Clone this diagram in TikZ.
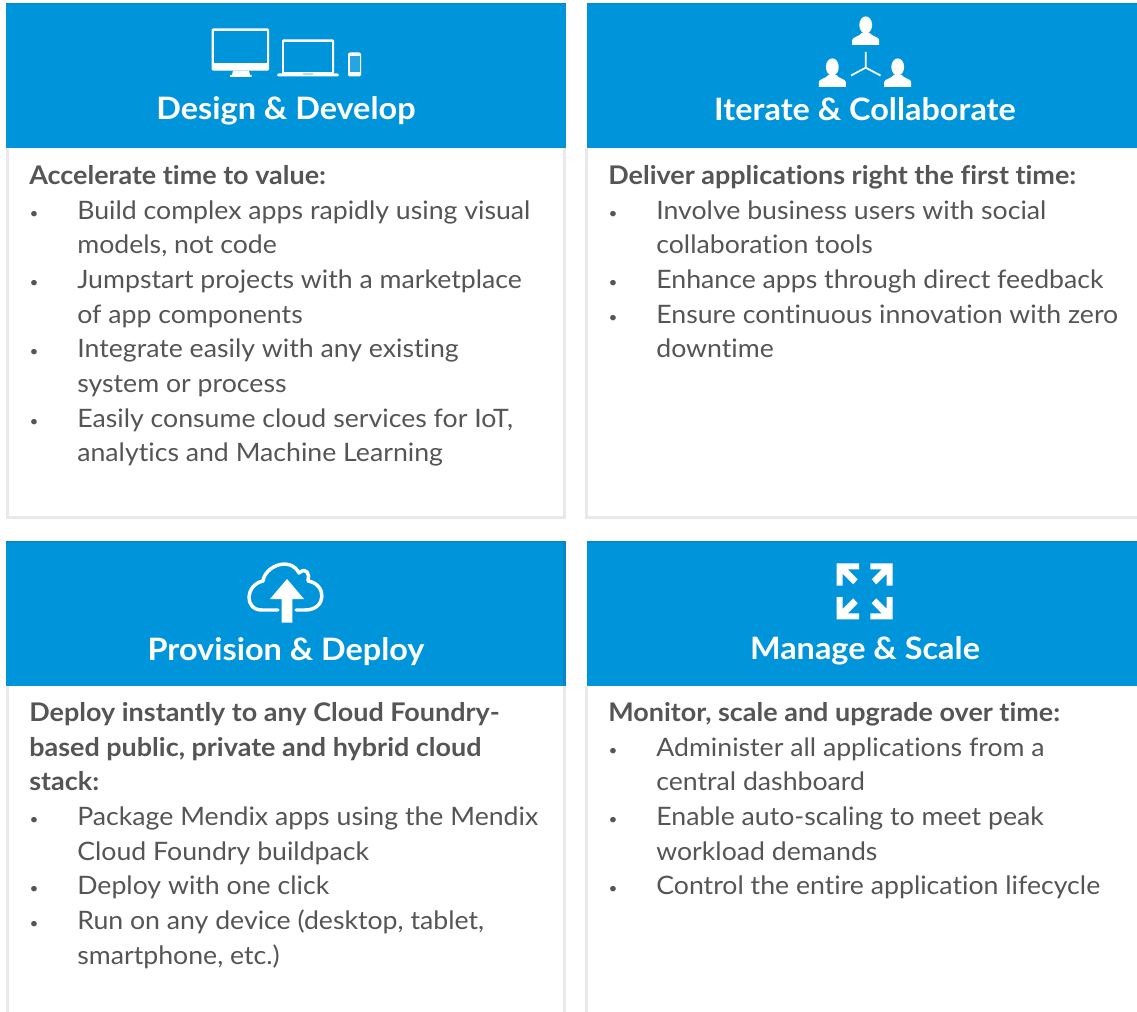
\documentclass[tikz,border=0pt]{standalone}
\usepackage{fontspec}
\setmainfont[FakeStretch=1.05,Ligatures=NoCommon]{Lato}
\definecolor{hdr}{HTML}{0095DB}
\definecolor{hdrdark}{HTML}{0488C6}
\definecolor{bord}{HTML}{E9E9E9}
\definecolor{txt}{HTML}{555555}
\tikzset{
  panelbox/.style={draw=none,fill=bord},
  hdrbox/.style={fill=hdr,draw=none},
  hdrtop/.style={fill=hdrdark,draw=none},
  title/.style={text=white,font=\fontsize{23.15}{26}\selectfont\bfseries,anchor=base,inner sep=0pt},
  bodyline/.style={text=txt,font=\fontsize{19.05}{22}\selectfont,anchor=base west,inner sep=0pt,xshift=-0.7pt,yshift=-0.4pt},
  headline/.style={text=txt,font=\fontsize{19.25}{22}\selectfont\bfseries,anchor=base west,inner sep=0pt,xshift=-0.7pt,yshift=-0.4pt},
  bulletmark/.style={text=txt,font=\fontsize{11}{13}\selectfont,anchor=base,inner sep=0pt,yshift=0.6pt},
  ico/.style={fill=white,draw=none},
  icoline/.style={draw=white,fill=none,line width=2.6pt,line join=round,line cap=round},
  icothin/.style={draw=white,fill=none,line width=1.3pt}
}
\newcommand{\personico}[2]{%
  \begin{scope}[shift={(#1,#2)}]
    \fill[ico] (0,-20) ellipse [x radius=6.4,y radius=8.6];
    \fill[ico] (-13.5,0) -- (-13.5,-5) .. controls (-13.5,-8) and (-6,-8.5) .. (-4,-12) -- (4,-12) .. controls (6,-8.5) and (13.5,-8) .. (13.5,-5) -- (13.5,0) -- cycle;
  \end{scope}}
\newcommand{\expandico}[2]{%
  \begin{scope}[shift={(864.7,591.3)},xscale=#1,yscale=#2]
    \fill[ico] (-28,-28) -- (-5.7,-28) -- (-5.7,-22) -- (-17,-22) -- (-7,-12) -- (-11.5,-7) -- (-22,-17.5) -- (-22,-5.7) -- (-28,-5.7) -- cycle;
  \end{scope}}
\begin{document}
\begin{tikzpicture}[x=0.75pt,y=-0.75pt]
\useasboundingbox (0,0) rectangle (1137,1012);
\clip (0,0) rectangle (1137,1012);
\fill[white] (0,0) rectangle (1137,1012);
% panels: borders
\fill[panelbox] (6,148) rectangle (566,519.3);
\fill[white] (9,148) rectangle (563.3,516);
\fill[panelbox] (585,148) rectangle (1140,519.3);
\fill[white] (588.3,148) rectangle (1140,516);
\fill[panelbox] (6,686) rectangle (566,1012);
\fill[white] (9,686) rectangle (563.3,1012);
\fill[panelbox] (585,686) rectangle (1140,1012);
\fill[white] (588.3,686) rectangle (1140,1012);
% headers
\fill[hdrbox] (6,3) rectangle (566,148);
\fill[hdrbox] (587,3) rectangle (1140,148);
\fill[hdrbox] (6,541) rectangle (566,686);
\fill[hdrbox] (587,541) rectangle (1140,686);
\fill[hdrtop] (6,541) rectangle (566,542.5);
\fill[hdrtop] (587,541) rectangle (1140,542.5);
\fill[hdrtop] (563.3,541) rectangle (566,686);
\fill[hdrtop] (6,3) rectangle (566,4.5);
\fill[hdrtop] (587,3) rectangle (1140,4.5);
% titles
\node[title] (t1) at (286,120) {Design \& Develop};
\node[title] (t2) at (865,121) {Iterate \& Collaborate};
\node[title] (t3) at (286,660) {Provision \& Deploy};
\node[title] (t4) at (865,659.5) {Manage \& Scale};
% monitor icon
\fill[ico,rounded corners=1pt] (211.7,28.3) rectangle (269,70.7);
\fill[hdr] (214.3,31) rectangle (266.5,62.7);
\fill[ico] (233,70.7) -- (249,70.7) -- (250,75) -- (251.5,75) -- (251.5,77) -- (230,77) -- (230,75) -- (232,75) -- cycle;
% laptop icon
\fill[ico,rounded corners=1pt] (282,39.3) rectangle (334,74);
\fill[hdr] (284.3,41.7) rectangle (331.7,72);
\fill[ico,rounded corners=1pt] (277,73.5) rectangle (339,76.5);
\fill[hdr!30!white] (303,73.5) rectangle (313,74.8);
% phone icon
\fill[ico,rounded corners=1.5pt] (348,52.5) rectangle (361,76.5);
\fill[hdr!85!white] (349.5,56) rectangle (359.5,72);
% people icon
\personico{865.7}{45}
\personico{832.3}{87}
\personico{897.7}{87}
\draw[icothin] (865.7,52) -- (865.7,67.7) -- (851,75.5);
\draw[icothin] (865.7,67.7) -- (880.5,75.5);
% cloud icon
\draw[icoline] (278,610) -- (262,610) .. controls (244,610) and (245,585) .. (263,581)
  .. controls (265,566) and (290,556) .. (299,573)
  .. controls (307,566) and (310,575) .. (308,581)
  .. controls (327,584) and (327,610) .. (305,610) -- (296,610);
\fill[ico] (287,579) -- (304,599) -- (292.3,599) -- (292.3,622.5) -- (281.5,622.5) -- (281.5,599) -- (270,599) -- cycle;
% expand icon
\expandico{1}{1}
\expandico{-1}{1}
\expandico{1}{-1}
\expandico{-1}{-1}
% text panel 1
\node[headline] (a0) at (30,184) {Accelerate time to value:};
\node[bulletmark] (ab1) at (34,219) {•};
\node[bodyline] (a1) at (78,219) {Build complex apps rapidly using visual};
\node[bodyline] (a2) at (78,253) {models, not code};
\node[bulletmark] (ab2) at (34,288) {•};
\node[bodyline] (a3) at (78,288) {Jumpstart projects with a marketplace};
\node[bodyline] (a4) at (78,323) {of app components};
\node[bulletmark] (ab3) at (34,357) {•};
\node[bodyline] (a5) at (78,357) {Integrate easily with any existing};
\node[bodyline] (a6) at (78,392) {system or process};
\node[bulletmark] (ab4) at (34,427) {•};
\node[bodyline] (a7) at (78,427) {Easily consume cloud services for IoT,};
\node[bodyline] (a8) at (78,461) {analytics and Machine Learning};
% text panel 2
\node[headline] (b0) at (609,184) {Deliver applications right the first time:};
\node[bulletmark] (bb1) at (613,219) {•};
\node[bodyline] (b1) at (657,219) {Involve business users with social};
\node[bodyline] (b2) at (657,253) {collaboration tools};
\node[bulletmark] (bb2) at (613,288) {•};
\node[bodyline] (b3) at (657,288) {Enhance apps through direct feedback};
\node[bulletmark] (bb3) at (613,323) {•};
\node[bodyline] (b4) at (657,323) {Ensure continuous innovation with zero};
\node[bodyline] (b5) at (657,357) {downtime};
% text panel 3
\node[headline] (c0) at (30,721) {Deploy instantly to any Cloud Foundry-};
\node[headline] (c1) at (30,756) {based public, private and hybrid cloud};
\node[headline] (c2) at (30,790) {stack:};
\node[bulletmark] (cb1) at (34,825) {•};
\node[bodyline] (c3) at (78,825) {Package Mendix apps using the Mendix};
\node[bodyline] (c4) at (78,860) {Cloud Foundry buildpack};
\node[bulletmark] (cb2) at (34,894) {•};
\node[bodyline] (c5) at (78,894) {Deploy with one click};
\node[bulletmark] (cb3) at (34,929) {•};
\node[bodyline] (c6) at (78,929) {Run on any device (desktop, tablet,};
\node[bodyline] (c7) at (78,964) {smartphone, etc.)};
% text panel 4
\node[headline] (d0) at (609,721) {Monitor, scale and upgrade over time:};
\node[bulletmark] (db1) at (613,756) {•};
\node[bodyline] (d1) at (657,756) {Administer all applications from a};
\node[bodyline] (d2) at (657,790) {central dashboard};
\node[bulletmark] (db2) at (613,825) {•};
\node[bodyline] (d3) at (657,825) {Enable auto-scaling to meet peak};
\node[bodyline] (d4) at (657,860) {workload demands};
\node[bulletmark] (db3) at (613,894) {•};
\node[bodyline] (d5) at (657,894) {Control the entire application lifecycle};
\end{tikzpicture}
\end{document}
